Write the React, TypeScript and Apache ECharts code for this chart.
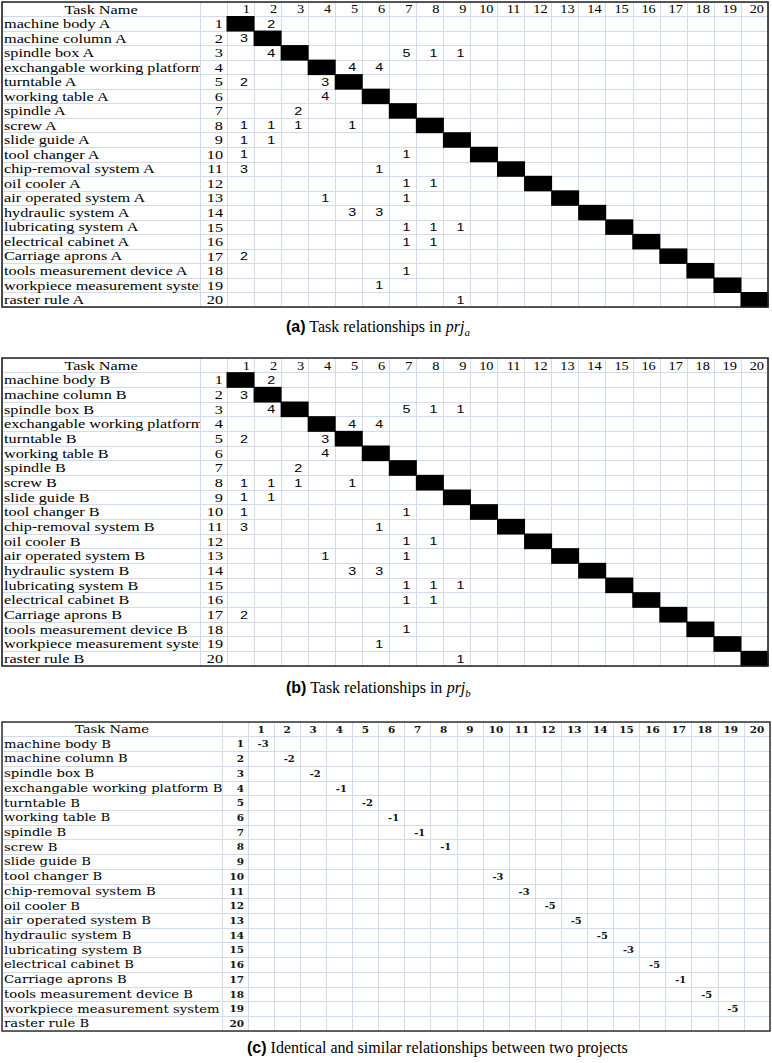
import React, { useEffect, useRef } from "react";
import * as echarts from "echarts";

// ---------- data ----------
const taskNamesA = [
  "machine body A", "machine column A", "spindle box A", "exchangable working platform A",
  "turntable A", "working table A", "spindle A", "screw A", "slide guide A", "tool changer A",
  "chip-removal system A", "oil cooler A", "air operated system A", "hydraulic system A",
  "lubricating system A", "electrical cabinet A", "Carriage aprons A", "tools measurement device A",
  "workpiece measurement system A", "raster rule A",
];
const taskNamesB = [
  "machine body B", "machine column B", "spindle box B", "exchangable working platform B",
  "turntable B", "working table B", "spindle B", "screw B", "slide guide B", "tool changer B",
  "chip-removal system B", "oil cooler B", "air operated system B", "hydraulic system B",
  "lubricating system B", "electrical cabinet B", "Carriage aprons B", "tools measurement device B",
  "workpiece measurement system B", "raster rule B",
];
const taskNamesC = [
  "machine body B", "machine column B", "spindle box B", "exchangable working platform B",
  "turntable B", "working table B", "spindle B", "screw B", "slide guide B", "tool changer B",
  "chip-removal system B", "oil cooler B", "air operated system B", "hydraulic system B",
  "lubricating system B", "electrical cabinet B", "Carriage aprons B", "tools measurement device B",
  "workpiece measurement system B", "raster rule B",
];
const rowNumbers = ["1","2","3","4","5","6","7","8","9","10","11","12","13","14","15","16","17","18","19","20"];
const columnNumbers = ["1","2","3","4","5","6","7","8","9","10","11","12","13","14","15","16","17","18","19","20"];
const headerTitle = "Task Name";

// [row, column, value]
const relationsA: [number, number, number][] = [
  [1,2,2],[2,1,3],[3,2,4],[3,7,5],[3,8,1],[3,9,1],[4,5,4],[4,6,4],[5,1,2],[5,4,3],[6,4,4],[7,3,2],
  [8,1,1],[8,2,1],[8,3,1],[8,5,1],[9,1,1],[9,2,1],[10,1,1],[10,7,1],[11,1,3],[11,6,1],[12,7,1],[12,8,1],
  [13,4,1],[13,7,1],[14,5,3],[14,6,3],[15,7,1],[15,8,1],[15,9,1],[16,7,1],[16,8,1],[17,1,2],[18,7,1],
  [19,6,1],[20,9,1],
];
const relationsB: [number, number, number][] = [
  [1,2,2],[2,1,3],[3,2,4],[3,7,5],[3,8,1],[3,9,1],[4,5,4],[4,6,4],[5,1,2],[5,4,3],[6,4,4],[7,3,2],
  [8,1,1],[8,2,1],[8,3,1],[8,5,1],[9,1,1],[9,2,1],[10,1,1],[10,7,1],[11,1,3],[11,6,1],[12,7,1],[12,8,1],
  [13,4,1],[13,7,1],[14,5,3],[14,6,3],[15,7,1],[15,8,1],[15,9,1],[16,7,1],[16,8,1],[17,1,2],[18,7,1],
  [19,6,1],[20,9,1],
];
// diagonal similarity values in (c), null = empty
const similarityC: (number | null)[] = [-3,-2,-2,-1,-2,-1,-1,-1,null,-3,-3,-5,-5,-5,-3,-5,-1,-5,-5,null];

// ---------- styles ----------
const LINE = "#d0dbee";
type F = { family: string; size: number; weight: string; scaleX: number; color: string };
const styleAB = {
  name: { family: "Liberation Serif", size: 12.5, weight: "normal", scaleX: 1.3, color: "#000" } as F,
  rowNum: { family: "Liberation Serif", size: 13, weight: "normal", scaleX: 1.25, color: "#000" } as F,
  head: { family: "Liberation Serif", size: 12.5, weight: "normal", scaleX: 1.15, color: "#000" } as F,
  value: { family: "Liberation Sans", size: 11, weight: "normal", scaleX: 1.3, color: "#000" } as F,
  headAlign: "right", headPad: 4, valuePad: 6, rowPad: 4,
  border: "#222", borderW: 1.6,
};
const styleC = {
  name: { family: "DejaVu Serif", size: 11, weight: "normal", scaleX: 1.2, color: "#000" } as F,
  rowNum: { family: "DejaVu Serif", size: 9.5, weight: "bold", scaleX: 1.1, color: "#111" } as F,
  head: { family: "DejaVu Serif", size: 9.5, weight: "bold", scaleX: 1.1, color: "#111" } as F,
  value: { family: "DejaVu Serif", size: 9, weight: "bold", scaleX: 1.1, color: "#111" } as F,
  headAlign: "center", headPad: 0, valuePad: -2, rowPad: 4,
  border: "#333", borderW: 1.5,
};

const panels = [
  { names: taskNamesA, relations: relationsA, similarity: null, top: 2, height: 305, left: 2, nameW: 198, numW: 27, matW: 541, st: styleAB },
  { names: taskNamesB, relations: relationsB, similarity: null, top: 358, height: 308, left: 2, nameW: 198, numW: 27, matW: 541, st: styleAB },
  { names: taskNamesC, relations: null, similarity: similarityC, top: 722, height: 309, left: 2, nameW: 220, numW: 26, matW: 522, st: styleC },
];

function textEl(x: number, y: number, text: string, f: F, align: string) {
  return {
    type: "text",
    x, y, scaleX: f.scaleX, scaleY: 1,
    style: {
      text, fill: f.color, fontSize: f.size, fontFamily: f.family, fontWeight: f.weight,
      align, verticalAlign: "middle",
    },
  };
}

function buildOption() {
  const grid: any[] = [];
  const xAxis: any[] = [];
  const yAxis: any[] = [];
  const series: any[] = [];
  const rowCats = ["", ...rowNumbers];
  const split = { show: true, interval: 0, lineStyle: { color: LINE, width: 1 } };
  const hiddenCat = (gi: number, data: string[], extra: any = {}) => ({
    type: "category", gridIndex: gi, data, axisLine: { show: false }, axisTick: { show: false },
    axisLabel: { show: false }, splitLine: split, ...extra,
  });

  panels.forEach((p, pi) => {
    const g0 = pi * 4;
    const st = p.st;
    // name column, number column, matrix, outer border
    grid.push({ left: p.left, top: p.top, width: p.nameW, height: p.height, containLabel: false });
    grid.push({ left: p.left + p.nameW, top: p.top, width: p.numW, height: p.height });
    grid.push({ left: p.left + p.nameW + p.numW, top: p.top, width: p.matW, height: p.height });
    grid.push({
      left: p.left, top: p.top, width: p.nameW + p.numW + p.matW, height: p.height,
      show: true, borderColor: st.border, borderWidth: st.borderW, backgroundColor: "transparent", z: 10,
    });
    xAxis.push(hiddenCat(g0, [headerTitle]));
    xAxis.push(hiddenCat(g0 + 1, ["#"]));
    xAxis.push(hiddenCat(g0 + 2, columnNumbers));
    xAxis.push({ type: "value", gridIndex: g0 + 3, show: false });
    yAxis.push(hiddenCat(g0, rowCats, { inverse: true }));
    yAxis.push(hiddenCat(g0 + 1, rowCats, { inverse: true }));
    yAxis.push(hiddenCat(g0 + 2, rowCats, { inverse: true }));
    yAxis.push({ type: "value", gridIndex: g0 + 3, show: false });

    // names column
    const nameItems = [{ col: 0, row: 0, text: headerTitle, header: true }].concat(
      p.names.map((n, i) => ({ col: 0, row: i + 1, text: n, header: false }))
    );
    series.push({
      type: "custom", xAxisIndex: g0, yAxisIndex: g0, clip: true, z: 3,
      data: nameItems.map((d) => [d.col, d.row]),
      renderItem: (params: any, api: any) => {
        const d = nameItems[params.dataIndex];
        const c = api.coord([api.value(0), api.value(1)]);
        const s = api.size([1, 1]);
        if (d.header) return textEl(c[0], c[1], d.text, st.name, "center");
        return textEl(c[0] - s[0] / 2 + 2, c[1], d.text, st.name, "left");
      },
    });
    // row numbers
    series.push({
      type: "custom", xAxisIndex: g0 + 1, yAxisIndex: g0 + 1, z: 3,
      data: rowNumbers.map((_, i) => [0, i + 1]),
      renderItem: (params: any, api: any) => {
        const c = api.coord([api.value(0), api.value(1)]);
        const s = api.size([1, 1]);
        return textEl(c[0] + s[0] / 2 - st.rowPad, c[1], rowNumbers[params.dataIndex], st.rowNum, "right");
      },
    });
    // column header numbers
    series.push({
      type: "custom", xAxisIndex: g0 + 2, yAxisIndex: g0 + 2, z: 3,
      data: columnNumbers.map((_, i) => [i, 0]),
      renderItem: (params: any, api: any) => {
        const c = api.coord([api.value(0), api.value(1)]);
        const s = api.size([1, 1]);
        const x = st.headAlign === "right" ? c[0] + s[0] / 2 - st.headPad : c[0];
        return textEl(x, c[1], columnNumbers[params.dataIndex], st.head, st.headAlign);
      },
    });
    if (p.relations) {
      // black diagonal cells
      series.push({
        type: "custom", xAxisIndex: g0 + 2, yAxisIndex: g0 + 2, z: 4,
        data: rowNumbers.map((_, i) => [i, i + 1]),
        renderItem: (params: any, api: any) => {
          const c = api.coord([api.value(0), api.value(1)]);
          const s = api.size([1, 1]);
          return {
            type: "rect",
            shape: { x: c[0] - s[0] / 2 - 0.5, y: c[1] - s[1] / 2 - 0.5, width: s[0] + 1, height: s[1] + 1 },
            style: { fill: "#000" },
          };
        },
      });
      const rel = p.relations;
      series.push({
        type: "custom", xAxisIndex: g0 + 2, yAxisIndex: g0 + 2, z: 3,
        data: rel.map((r) => [r[1] - 1, r[0]]),
        renderItem: (params: any, api: any) => {
          const c = api.coord([api.value(0), api.value(1)]);
          const s = api.size([1, 1]);
          return textEl(c[0] + s[0] / 2 - st.valuePad, c[1], String(rel[params.dataIndex][2]), st.value, "right");
        },
      });
    }
    if (p.similarity) {
      const items: { col: number; row: number; v: number }[] = [];
      p.similarity.forEach((v, i) => { if (v !== null) items.push({ col: i, row: i + 1, v }); });
      series.push({
        type: "custom", xAxisIndex: g0 + 2, yAxisIndex: g0 + 2, z: 3,
        data: items.map((d) => [d.col, d.row]),
        renderItem: (params: any, api: any) => {
          const c = api.coord([api.value(0), api.value(1)]);
          return textEl(c[0] - st.valuePad, c[1], String(items[params.dataIndex].v), st.value, "center");
        },
      });
    }
  });

  const rich = {
    b: { fontFamily: "Liberation Sans", fontWeight: "bold", fontSize: 16, color: "#000" },
    t: { fontFamily: "Liberation Serif", fontWeight: "normal", fontSize: 16, color: "#000" },
    i: { fontFamily: "Liberation Serif", fontStyle: "italic", fontWeight: "normal", fontSize: 16, color: "#000" },
    s: { fontFamily: "Liberation Serif", fontStyle: "italic", fontWeight: "normal", fontSize: 11, color: "#000", padding: [10, 0, 0, 0] },
  };
  const title = [
    { text: "{b|(a)}{t| Task relationships in }{i|prj}{s|a}", left: 281, top: 311, textStyle: { rich } },
    { text: "{b|(b)}{t| Task relationships in }{i|prj}{s|b}", left: 281, top: 672, textStyle: { rich } },
    { text: "{b|(c)}{t| Identical and similar relationships between two projects}", left: 242, top: 1034, textStyle: { rich } },
  ];

  return { animation: false, backgroundColor: "#fff", title, grid, xAxis, yAxis, series };
}

export default function App() {
  const ref = useRef<HTMLDivElement>(null);
  useEffect(() => {
    document.body.style.margin = "0";
    if (!ref.current) return;
    const chart = echarts.init(ref.current, undefined, { renderer: "svg" });
    chart.setOption(buildOption() as any);
    return () => chart.dispose();
  }, []);
  return <div ref={ref} style={{ width: 772, height: 1063 }} />;
}
